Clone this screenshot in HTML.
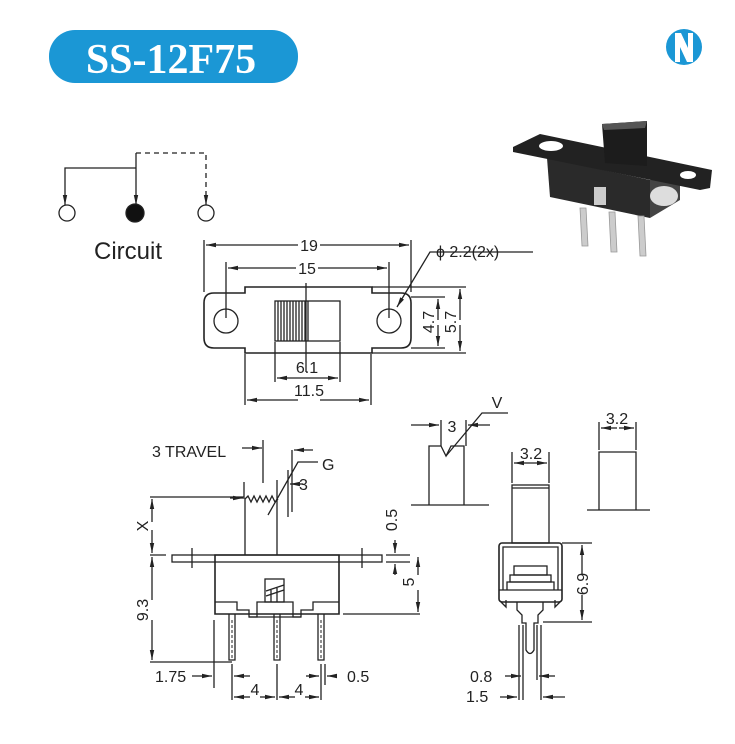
<!DOCTYPE html>
<html><head><style>
html,body{margin:0;padding:0;background:#fff}
svg{display:block}
text{font-family:"Liberation Sans",Arial,sans-serif;fill:#222}
</style></head><body>
<svg width="735" height="744" viewBox="0 0 735 744" xmlns="http://www.w3.org/2000/svg">
<defs>
<marker id="a" markerWidth="10" markerHeight="6" refX="10" refY="3" orient="auto" markerUnits="userSpaceOnUse"><path d="M0,0.8 L10,3 L0,5.2z" fill="#222"/></marker>
</defs>
<!-- header -->
<rect x="49" y="30" width="249" height="53" rx="26" fill="#1b97d5"/>
<text x="171" y="73" text-anchor="middle" style="font-family:'Liberation Serif',serif;font-weight:bold;font-size:42px;fill:#fff">SS-12F75</text>
<circle cx="684" cy="47" r="18" fill="#1b97d5"/>
<path d="M675,62 V33 H681 L688,48 V33 H693 V62 H687 L680,47 V62Z" fill="#fff"/>

<g stroke="#222" stroke-width="1.3" fill="none">
<!-- circuit -->
<path d="M136,168 H65 V205" marker-end="url(#a)"/>
<path d="M136,153 V205" marker-end="url(#a)"/>
<path d="M136,153 H206 V205" stroke-dasharray="5,4" marker-end="url(#a)"/>
<circle cx="67" cy="213" r="8"/>
<circle cx="206" cy="213" r="8"/>
<circle cx="135" cy="213" r="9" fill="#111"/>

<!-- top view -->
<path d="M214,293 H245 V287 H372 V293 H401 Q411,293 411,303 V338 Q411,348 401,348 H372 V353 H245 V348 H214 Q204,348 204,338 V303 Q204,293 214,293Z" stroke-width="1.6"/>
<circle cx="226" cy="321" r="12"/>
<circle cx="389" cy="321" r="12"/>
<rect x="275" y="301" width="65" height="40"/>
<path d="M278,301V341M281,301V341M284,301V341M287,301V341M290,301V341M293,301V341M296,301V341M299,301V341M302,301V341M305,301V341M308,301V341"/>
<path d="M306,283V372"/>
<path d="M204,240V292M411,240V292M226,262V318M389,262V318"/>
<path d="M275,342V382M340,342V382M245,354V405M371,354V405"/>
<path d="M298,245H206" marker-end="url(#a)"/><path d="M320,245H409" marker-end="url(#a)"/>
<path d="M296,268H228" marker-end="url(#a)"/><path d="M318,268H387" marker-end="url(#a)"/>
<path d="M306,378H277" marker-end="url(#a)"/><path d="M306,378H338" marker-end="url(#a)"/>
<path d="M298,400H247" marker-end="url(#a)"/><path d="M320,400H369" marker-end="url(#a)"/>
<path d="M411,297H445M411,348H445M372,287H466M372,353H466"/>
<path d="M438,320V299" marker-end="url(#a)"/><path d="M438,325V346" marker-end="url(#a)"/>
<path d="M460,320V289" marker-end="url(#a)"/><path d="M460,325V351" marker-end="url(#a)"/>
<path d="M533,252H430L397,307" marker-end="url(#a)"/>

<!-- side view -->
<rect x="172" y="555" width="210" height="7"/>
<path d="M215,555V614H339V555Z" stroke-width="1.6"/>
<path d="M215,602H237V610H249V617H257V602H293V617H301V610H313V602H339"/>
<path d="M249,617H301"/>
<rect x="265" y="579" width="19" height="23"/>
<path d="M266,591L284,585M266,596L284,590M271,590V602M277,588V602"/>
<path d="M245,555V499M277,555V480"/>
<path d="M245,499l3,-3l3,6l3,-6l3,6l3,-6l3,6l3,-6l3,6l3,-6l3,6l3,-3"/>
<path d="M268,515L298,462H318"/>
<path d="M244,482V499M288,470V517M263,440V483M292,450V512"/>
<path d="M230,498H243" marker-end="url(#a)"/>
<path d="M242,448H262" marker-end="url(#a)"/>
<path d="M313,450H294" marker-end="url(#a)"/>
<path d="M303,484H290" marker-end="url(#a)"/>
<path d="M192,548V568M362,548V568"/>
<path d="M229,614V660h6V614M274,614V660h6V614M318,614V660h6V614"/>
<path d="M232,620V658M277,620V658M321,620V658" stroke-dasharray="3,2" stroke-width="1"/>
<!-- left dims -->
<path d="M150,497H244M150,555H166M150,662H232"/>
<path d="M152,522V499" marker-end="url(#a)"/><path d="M152,530V553" marker-end="url(#a)"/>
<path d="M152,600V557" marker-end="url(#a)"/><path d="M152,620V660" marker-end="url(#a)"/>
<path d="M232,664V700M277,664V700M321,664V700M325,664V685M214,620V688"/>
<path d="M192,676H212" marker-end="url(#a)"/>
<path d="M250,676H234" marker-end="url(#a)"/>
<path d="M250,697H234" marker-end="url(#a)"/><path d="M260,697H275" marker-end="url(#a)"/>
<path d="M295,697H279" marker-end="url(#a)"/><path d="M305,697H319" marker-end="url(#a)"/>
<path d="M337,676H327" marker-end="url(#a)"/><path d="M306,676H319" marker-end="url(#a)"/>
<!-- right dims -->
<path d="M386,555H410M386,562H410M343,614H420"/>
<path d="M395,540V553" marker-end="url(#a)"/><path d="M395,575V564" marker-end="url(#a)"/>
<path d="M418,575V557" marker-end="url(#a)"/><path d="M418,590V612" marker-end="url(#a)"/>

<!-- V profile -->
<path d="M411,505H489M429,505V446H441L446,456L451,446H464V505"/>
<path d="M441,420V446M466,420V446"/>
<path d="M411,425H439" marker-end="url(#a)"/>
<path d="M490,425H468" marker-end="url(#a)"/>
<path d="M446,456L482,413H508"/>
<!-- right rect -->
<path d="M587,510H650M599,510V452H636V510M599,422V450M636,422V450"/>
<path d="M617,428H601" marker-end="url(#a)"/><path d="M619,428H634" marker-end="url(#a)"/>

<!-- front view -->
<rect x="512" y="485" width="37" height="58"/>
<path d="M512,488H549"/>
<path d="M512,452V483M549,452V483"/>
<path d="M530,463H514" marker-end="url(#a)"/><path d="M530,463H547" marker-end="url(#a)"/>
<rect x="499" y="543" width="63" height="59" rx="3" stroke-width="1.6"/>
<path d="M503,590V547H558V590"/>
<path d="M499,590H562"/>
<rect x="514" y="566" width="33" height="9"/>
<rect x="510" y="575" width="41" height="7"/>
<path d="M507,590V582H554V590"/>
<path d="M501,602L506,607V600M560,602L555,607V600"/>
<path d="M517,602V610L522,615V623H526V650Q530,657 534,650V623H538V615L543,610V602"/>
<path d="M523,625V700M537,625V680M519,625V700M541,625V700"/>
<path d="M562,543H592M543,622H592"/>
<path d="M582,575V545" marker-end="url(#a)"/><path d="M582,595V620" marker-end="url(#a)"/>
<path d="M505,676H521" marker-end="url(#a)"/><path d="M555,676H539" marker-end="url(#a)"/>
<path d="M500,697H517" marker-end="url(#a)"/><path d="M565,697H543" marker-end="url(#a)"/>
</g>

<!-- text labels -->
<text x="94" y="259" style="font-size:24px">Circuit</text>
<g style="font-size:16px">
<text x="309" y="251" text-anchor="middle">19</text>
<text x="307" y="274" text-anchor="middle">15</text>
<text x="307" y="373" text-anchor="middle">6.1</text>
<text x="309" y="396" text-anchor="middle">11.5</text>
<text x="436" y="257">ϕ 2.2(2x)</text>
<text transform="translate(434,322) rotate(-90)" text-anchor="middle">4.7</text>
<text transform="translate(456,322) rotate(-90)" text-anchor="middle">5.7</text>
<text x="152" y="457">3 TRAVEL</text>
<text x="322" y="470">G</text>
<text x="299" y="490">3</text>
<text transform="translate(148,526) rotate(-90)" text-anchor="middle">X</text>
<text transform="translate(148,610) rotate(-90)" text-anchor="middle">9.3</text>
<text transform="translate(397,520) rotate(-90)" text-anchor="middle">0.5</text>
<text transform="translate(414,582) rotate(-90)" text-anchor="middle">5</text>
<text x="155" y="682">1.75</text>
<text x="255" y="695" text-anchor="middle">4</text>
<text x="299" y="695" text-anchor="middle">4</text>
<text x="347" y="682">0.5</text>
<text x="452" y="432" text-anchor="middle">3</text>
<text x="497" y="408" text-anchor="middle">V</text>
<text x="617" y="424" text-anchor="middle">3.2</text>
<text x="531" y="459" text-anchor="middle">3.2</text>
<text transform="translate(588,584) rotate(-90)" text-anchor="middle">6.9</text>
<text x="470" y="682">0.8</text>
<text x="466" y="702">1.5</text>
</g>

<!-- photo -->
<g>
<path d="M547,158 L650,180 L650,218 L550,197Z" fill="#2a2a2a"/>
<path d="M650,180 L680,172 L680,200 L650,218Z" fill="#444"/>
<ellipse cx="664" cy="196" rx="14" ry="10" fill="#ddd"/>
<rect x="594" y="187" width="12" height="18" fill="#ccc"/>
<path d="M513,147 L540,134 L712,170 L710,188 L700,190 L513,152Z" fill="#222"/>
<ellipse cx="551" cy="146" rx="12" ry="5" fill="#fff"/>
<ellipse cx="688" cy="175" rx="8" ry="4" fill="#fff"/>
<path d="M602,124 L647,121 L647,166 L605,163Z" fill="#1c1c1c"/>
<path d="M602,124 L647,121 L645,128 L604,130Z" fill="#555"/>
<path d="M580,208 l6,0 l2,38 l-6,0z M609,212 l6,0 l2,40 l-6,0z M638,216 l6,0 l2,40 l-6,0z" fill="#ccc" stroke="#999" stroke-width="0.8"/>
</g>
</svg>
</body></html>
